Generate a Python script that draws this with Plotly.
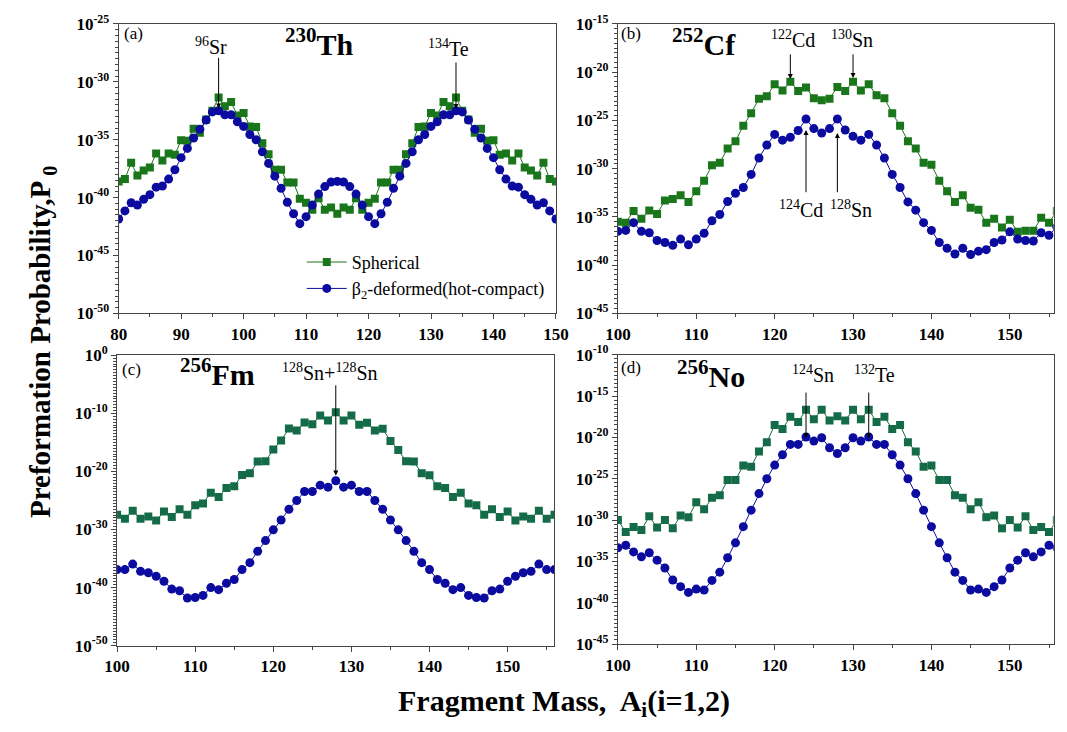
import plotly.graph_objects as go

# ---------------- data (log10 of preformation probability) ----------------
A_a = list(range(80, 151))
sph_a = [-38.6, -38.4, -37.0, -38.1, -37.65, -37.4, -36.2, -36.8, -36.2, -36.3,
         -35.05, -35.1, -34.05, -34.4, -33.25, -32.5, -31.35, -32.1, -31.75, -32.9,
         -32.7, -33.85, -33.9, -35.3, -36.25, -37.6, -37.6, -38.7, -38.7, -40.1,
         -40.45, -41.05, -40.05, -41.05, -40.85, -41.4, -40.85, -41.05, -40.05, -41.05,
         -40.45, -40.1, -38.7, -38.7, -37.6, -37.6, -36.25, -35.3, -33.9, -33.85,
         -32.7, -32.9, -31.75, -32.1, -31.35, -32.5, -33.25, -34.4, -34.05, -35.1,
         -35.05, -36.3, -36.2, -36.8, -36.2, -37.4, -37.65, -38.1, -37.0, -38.4, -38.6]
def_a = [-41.85, -41.15, -40.45, -40.65, -40.15, -39.75, -39.1, -39.0, -38.4, -37.6,
         -36.55, -35.75, -34.85, -34.1, -33.3, -32.6, -32.5, -32.85, -32.85, -33.45,
         -33.85, -34.55, -35.0, -36.05, -37.05, -38.15, -39.2, -40.4, -41.4, -42.25,
         -41.65, -40.65, -39.7, -39.05, -38.65, -38.6, -38.65, -39.05, -39.7, -40.65,
         -41.65, -42.25, -41.4, -40.4, -39.2, -38.15, -37.05, -36.05, -35.0, -34.55,
         -33.85, -33.45, -32.85, -32.85, -32.5, -32.6, -33.3, -34.1, -34.85, -35.75,
         -36.55, -37.6, -38.4, -39.0, -39.1, -39.75, -40.15, -40.65, -40.45, -41.15, -41.85]

A_b = list(range(100, 157))
sph_b = [-35.5, -35.6, -34.4, -35.2, -34.35, -34.7, -33.3, -33.15, -32.75, -33.45,
         -32.35, -31.25, -29.65, -29.4, -27.9, -27.15, -25.55, -24.25, -22.75, -22.5,
         -21.25, -21.9, -21.0, -21.95, -21.6, -22.7, -22.9, -22.75, -21.55, -21.95,
         -21.0, -21.9, -21.25, -22.4, -22.7, -24.25, -25.55, -27.15, -27.9, -29.4,
         -29.6, -31.25, -32.35, -33.45, -32.75, -34.05, -34.25, -35.6, -35.2, -36.1,
         -35.3, -36.55, -36.45, -36.45, -35.1, -35.6, -34.4]
def_b = [-36.5, -36.4, -35.6, -36.5, -36.65, -37.45, -37.65, -37.95, -37.3, -37.9,
         -37.3, -36.7, -35.4, -34.75, -33.4, -32.55, -31.95, -30.6, -28.9, -27.55,
         -26.45, -27.05, -26.75, -26.05, -24.85, -25.85, -26.3, -25.85, -24.85, -26.0,
         -26.65, -27.05, -26.45, -27.55, -28.9, -30.6, -31.95, -33.45, -34.3, -35.6,
         -36.4, -37.65, -38.25, -38.85, -38.25, -38.9, -38.55, -38.4, -37.65, -37.4,
         -36.55, -37.3, -37.45, -37.5, -36.65, -36.9, -36.05]

A_c = list(range(100, 157))
sph_c = [-27.45, -28.15, -26.75, -28.15, -27.75, -28.45, -26.9, -27.85, -26.5, -27.45,
         -25.8, -25.5, -23.65, -24.4, -22.85, -22.55, -20.6, -20.3, -18.3, -18.25,
         -16.2, -14.65, -12.6, -12.95, -11.55, -11.85, -10.35, -11.2, -9.8, -11.2,
         -10.35, -11.95, -11.6, -12.95, -12.65, -14.75, -16.3, -18.25, -18.3, -20.3,
         -20.65, -22.55, -22.85, -24.4, -23.65, -25.5, -25.8, -27.45, -26.5, -27.85,
         -26.9, -28.45, -27.75, -28.15, -26.75, -28.15, -27.45]
def_c = [-36.9, -36.9, -35.95, -37.2, -37.45, -38.05, -38.9, -40.25, -40.55, -41.8,
         -41.7, -41.35, -40.0, -40.35, -39.25, -38.6, -36.9, -35.7, -33.75, -31.9,
         -30.05, -28.35, -26.5, -25.0, -23.45, -23.45, -22.35, -22.7, -21.6, -22.7,
         -22.35, -23.45, -23.45, -25.0, -26.5, -28.35, -30.05, -31.9, -33.75, -35.7,
         -36.9, -38.6, -39.25, -40.35, -40.0, -41.35, -41.7, -41.8, -40.55, -40.25,
         -38.9, -38.05, -37.45, -37.2, -35.95, -36.9, -36.9]

A_d = list(range(100, 157))
sph_d = [-30.0, -31.45, -30.85, -31.2, -29.55, -30.9, -30.0, -31.0, -29.45, -29.65,
         -27.85, -28.7, -27.3, -27.0, -25.15, -25.15, -23.4, -23.55, -21.7, -20.6,
         -18.5, -19.0, -17.5, -18.15, -16.65, -17.8, -16.65, -17.95, -17.45, -17.95,
         -16.65, -17.8, -16.65, -18.15, -17.5, -19.0, -18.5, -20.6, -21.7, -23.55,
         -23.4, -25.15, -25.15, -27.0, -27.3, -28.7, -27.85, -29.65, -29.45, -31.0,
         -30.0, -30.9, -29.55, -31.2, -30.85, -31.45, -30.0]
def_d = [-33.35, -33.05, -33.85, -34.45, -33.95, -34.85, -35.8, -37.25, -38.05, -38.75,
         -38.35, -38.45, -37.3, -36.3, -34.55, -32.75, -30.8, -28.8, -26.8, -25.0,
         -23.35, -22.1, -20.85, -20.85, -19.95, -20.45, -20.05, -21.25, -21.95, -21.25,
         -20.05, -20.45, -19.95, -20.85, -20.85, -22.1, -23.35, -25.0, -26.8, -28.8,
         -30.8, -32.75, -34.55, -36.3, -37.3, -38.45, -38.35, -38.75, -38.05, -37.25,
         -35.8, -34.85, -33.95, -34.45, -33.85, -33.05, -33.35]

# y-axis decade ranges and label steps
yrange_a, ystep_a = (-50, -25), 5
yrange_b, ystep_b = (-45, -15), 5
yrange_c, ystep_c = (-50, 0), 10
yrange_d, ystep_d = (-45, -10), 5

# ---------------- styling ----------------
FONT = "Liberation Serif, Times New Roman, serif"
GREEN1 = "#1a761a"
GREEN2 = "#146b48"
BLUE = "#0b0ba0"
AXC = "#444444"

fig = go.Figure()

panels = [
    (A_a, sph_a, def_a, GREEN1, "x", "y"),
    (A_b, sph_b, def_b, GREEN1, "x2", "y2"),
    (A_c, sph_c, def_c, GREEN2, "x3", "y3"),
    (A_d, sph_d, def_d, GREEN2, "x4", "y4"),
]
for i, (A, s, d, g, xr, yr) in enumerate(panels):
    fig.add_trace(go.Scatter(
        x=A, y=[10.0 ** v for v in s], mode="lines+markers",
        line=dict(color=g, width=1), marker=dict(symbol="square", size=8, color=g),
        name="Spherical", showlegend=(i == 0), xaxis=xr, yaxis=yr))
    fig.add_trace(go.Scatter(
        x=A, y=[10.0 ** v for v in d], mode="lines+markers",
        line=dict(color=BLUE, width=1), marker=dict(symbol="circle", size=9, color=BLUE),
        name="\u03b2<sub>2</sub>-deformed(hot-compact)", showlegend=(i == 0),
        xaxis=xr, yaxis=yr))


def xax(domain, rng, anchor):
    return dict(domain=domain, range=rng, anchor=anchor, showline=True, mirror=True,
                linecolor=AXC, linewidth=1, ticks="outside", ticklen=5, tickwidth=1,
                tickcolor=AXC, tick0=0, dtick=10, showgrid=False, zeroline=False,
                minor=dict(dtick=5, tick0=0, ticks="outside", ticklen=3, tickcolor=AXC, showgrid=False),
                tickfont=dict(family=FONT, size=17, color="black", weight="bold"))


def yax(domain, yr, step, anchor):
    lo, hi = yr
    vals = list(range(lo, hi + 1, step))
    minor_vals = [10.0 ** (lo + 0.5 * k) for k in range(0, 2 * (hi - lo) + 1)]
    return dict(domain=domain, type="log", range=[lo, hi], anchor=anchor, showline=True,
                mirror=True, linecolor=AXC, linewidth=1, ticks="outside", ticklen=5,
                tickwidth=1, tickcolor=AXC, showgrid=False, zeroline=False,
                tickmode="array", tickvals=[10.0 ** v for v in vals],
                ticktext=["10<sup>%d</sup>" % v for v in vals],
                minor=dict(tickmode="array", tickvals=minor_vals, ticks="outside",
                           ticklen=3, tickcolor=AXC, showgrid=False),
                tickfont=dict(family=FONT, size=17, color="black", weight="bold"))


W, H = 1067, 732
xa = [108.3 / W, 556.5 / W]
xb = [620 / W, 1066.7 / W]
xc = [106.7 / W, 555 / W]
xd = [620 / W, 1066.7 / W]
ya = [(H - 310.7) / H, (H - 12.3) / H]
yb = ya
yc = [(H - 653.3) / H, (H - 354) / H]
yd = [(H - 651.7) / H, (H - 353.3) / H]

fig.update_layout(
    xaxis=xax(xa, [80, 150], "y"), yaxis=yax(ya, yrange_a, ystep_a, "x"),
    xaxis2=xax(xb, [100, 155.6], "y2"), yaxis2=yax(yb, yrange_b, ystep_b, "x2"),
    xaxis3=xax(xc, [100, 156], "y3"), yaxis3=yax(yc, yrange_c, ystep_c, "x3"),
    xaxis4=xax(xd, [100, 155.6], "y4"), yaxis4=yax(yd, yrange_d, ystep_d, "x4"),
)

ann = []


def text(xr, yr, x, y, t, size=16, bold=False):
    ann.append(dict(xref=xr, yref=yr, x=x, y=y, text=t, showarrow=False,
                    font=dict(family=FONT, size=size, color="black",
                              weight="bold" if bold else "normal"),
                    xanchor="center", yanchor="middle"))


def arrow(xr, yr, x, ytail, ytip):
    ann.append(dict(xref=xr, yref=yr, axref=xr, ayref=yr, x=x, y=ytip, ax=x, ay=ytail,
                    text="", showarrow=True, arrowhead=2, arrowsize=1, arrowwidth=1,
                    arrowcolor="black", standoff=0, startstandoff=0))


# panel (a)
text("x", "y", 82.3, -25.8, "(a)", 17)
text("x", "y", 112.2, -26.6, "<sup>230</sup>Th", 30, True)
text("x", "y", 94.8, -26.9, "<sup>96</sup>Sr", 20)
arrow("x", "y", 96, -27.8, -32.3)
text("x", "y", 132.8, -27.05, "<sup>134</sup>Te", 20)
arrow("x", "y", 134, -28.2, -32.35)

# panel (b)
text("x2", "y2", 101.7, -15.97, "(b)", 17)
text("x2", "y2", 111.0, -16.9, "<sup>252</sup>Cf", 30, True)
text("x2", "y2", 122.3, -16.6, "<sup>122</sup>Cd", 20)
arrow("x2", "y2", 122, -18.0, -20.7)
text("x2", "y2", 129.9, -16.6, "<sup>130</sup>Sn", 20)
arrow("x2", "y2", 130, -18.0, -20.6)
text("x2", "y2", 123.4, -34.2, "<sup>124</sup>Cd", 20)
arrow("x2", "y2", 124, -32.6, -26.0)
text("x2", "y2", 129.7, -34.2, "<sup>128</sup>Sn", 20)
arrow("x2", "y2", 128, -32.6, -26.3)

# panel (c)
text("x3", "y3", 101.8, -2.35, "(c)", 17)
text("x3", "y3", 112.9, -2.8, "<sup>256</sup>Fm", 30, True)
text("x3", "y3", 127.3, -2.85, "<sup>128</sup>Sn+<sup>128</sup>Sn", 20)
arrow("x3", "y3", 128, -4.9, -20.7)

# panel (d)
text("x4", "y4", 101.7, -11.6, "(d)", 17)
text("x4", "y4", 111.9, -12.3, "<sup>256</sup>No", 30, True)
text("x4", "y4", 124.9, -12.3, "<sup>124</sup>Sn", 20)
arrow("x4", "y4", 124, -14.4, -20.1)
text("x4", "y4", 132.8, -12.3, "<sup>132</sup>Te", 20)
arrow("x4", "y4", 132, -14.4, -20.1)

# global axis titles
ann.append(dict(xref="paper", yref="paper", x=30 / W, y=(H - 340) / H,
                text="Preformation Probability,P<sub> 0</sub>", textangle=-90,
                showarrow=False, xanchor="center", yanchor="middle",
                font=dict(family=FONT, size=29, color="black", weight="bold")))
ann.append(dict(xref="paper", yref="paper", x=565 / W, y=(H - 712) / H,
                text="Fragment Mass,  A<sub>i</sub>(i=1,2)",
                showarrow=False, xanchor="center", yanchor="middle",
                font=dict(family=FONT, size=30, color="black", weight="bold")))

fig.update_layout(
    annotations=ann,
    width=W, height=H, margin=dict(l=0, r=0, t=0, b=0),
    paper_bgcolor="white", plot_bgcolor="white",
    showlegend=True,
    legend=dict(x=296 / W, y=(H - 239) / H, xanchor="left", yanchor="top",
                bgcolor="rgba(0,0,0,0)", font=dict(family=FONT, size=18, color="black"),
                tracegroupgap=0, itemwidth=40),
)

fig.write_html("out.html")
